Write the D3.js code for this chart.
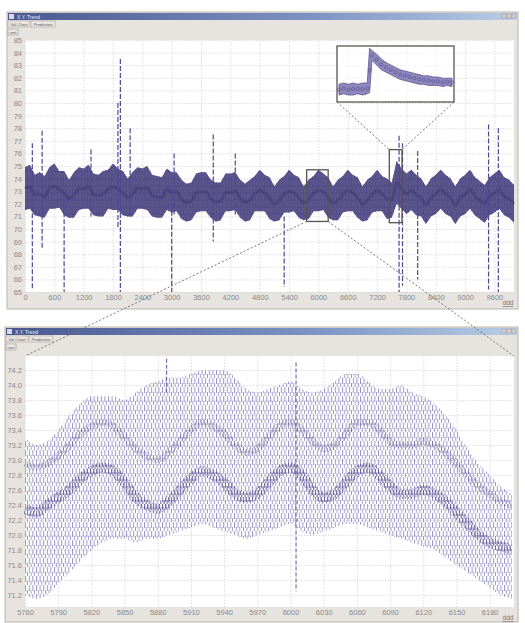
<!DOCTYPE html>
<html><head><meta charset="utf-8">
<script src="https://cdn.jsdelivr.net/npm/d3@7"></script>
<style>body{margin:0;background:#fff}svg{display:block;font-family:"Liberation Sans",Arial,sans-serif}</style>
</head><body><svg id="c" width="525" height="623"></svg>
<script>
// ---------- TOP CHART DATA (sampled every 100 units) ----------
const topStep = 100;
const topHi = [74.9,75.1,74.3,74.5,74.2,74.9,75.2,74.6,74.6,73.9,74.5,74.9,74.8,75.1,74.4,74.3,74.6,74.7,75.2,74.8,74.6,74.0,74.5,74.9,74.8,75.0,74.3,74.2,74.1,74.8,
74.5,74.5,73.9,73.6,73.7,74.4,74.5,74.5,73.9,73.7,73.7,74.4,74.4,74.5,73.9,73.6,73.9,74.2,74.7,74.3,74.1,73.4,73.9,74.2,74.7,74.3,74.1,73.4,73.9,74.2,
74.7,74.4,74.1,73.4,73.9,74.2,74.7,74.3,74.1,73.4,73.9,74.2,74.7,74.2,74.0,73.7,75.4,74.8,74.4,74.7,74.3,74.0,73.4,74.0,74.3,74.7,74.3,74.0,73.4,74.0,
74.3,74.7,74.1,73.8,73.5,74.1,74.4,74.7,74.1,73.9,73.5];
const topLo = [71.5,71.6,71.1,71.0,70.9,71.6,71.6,71.7,71.1,70.9,70.9,71.5,71.6,71.6,71.1,71.0,71.0,71.6,71.5,71.5,71.1,71.0,71.0,71.6,71.6,71.5,71.0,70.9,70.9,71.5,
71.3,71.4,70.8,70.6,70.7,71.3,71.4,71.4,70.9,70.6,70.7,71.4,71.4,71.5,70.9,70.6,70.7,71.4,71.4,71.4,70.8,70.6,70.7,71.3,71.3,71.4,70.9,70.7,70.8,71.4,
71.4,71.5,70.9,70.7,70.7,71.3,71.4,71.4,70.9,70.6,70.7,71.3,71.4,71.4,70.8,70.9,72.0,71.6,71.2,71.5,71.1,71.0,70.4,71.0,71.2,71.6,71.2,71.0,70.4,71.0,
71.2,71.6,71.1,70.8,70.5,71.1,71.3,71.6,71.1,70.9,70.5];
// outlier spikes: position, upper extreme, lower extreme
const spikeX   = [150, 350, 800, 1350, 1900, 1950, 2150, 3000, 3050, 3850, 4300, 5300, 7650, 7720, 8030, 9480, 9680];
const spikeTop = [76.8,77.8,73.0,76.3, 80.0, 83.5, 78.0, 72.0, 76.0, 77.5, 76.0, 71.0, 77.4, 76.8, 76.2, 78.3, 78.0];
const spikeBot = [65.2,68.4,65.0,71.0, 70.0, 65.0, 71.0, 65.0, 71.0, 69.0, 71.0, 65.4, 65.0, 65.5, 66.0, 65.2, 65.0];
const topYTicks = [65,66,67,68,69,70,71,72,73,74,75,76,77,78,79,80,81,82,83,84,85];
const topXTicks = [0,600,1200,1800,2400,3000,3600,4200,4800,5400,6000,6600,7200,7800,8400,9000,9600];

// ---------- INSET (spike detail 7460-7700) ----------
const insetT  = [7460,7470,7480,7490,7500,7510,7520,7525,7530,7540,7550,7560,7570,7580,7590,7600,7610,7620,7630,7640,7650,7660,7670,7680,7690,7700];
const insetHi = [73.3,73.4,73.3,73.4,73.3,73.4,73.4,76.3,76.1,75.8,75.4,75.1,74.9,74.7,74.5,74.4,74.3,74.2,74.1,74.0,74.0,73.9,73.9,73.8,73.8,73.8];
const insetLo = [72.4,72.5,72.4,72.4,72.5,72.4,72.5,72.6,75.3,74.9,74.5,74.3,74.1,73.9,73.7,73.6,73.5,73.4,73.3,73.3,73.2,73.2,73.2,73.1,73.2,73.1];

// ---------- BOTTOM CHART DATA (sampled every 10 units, 5760-6200) ----------
const botStep = 10;
const botHi = [73.3,73.2,73.25,73.4,73.6,73.75,73.85,73.85,73.85,73.8,73.9,74.0,74.05,74.1,74.1,74.15,74.2,74.2,74.2,74.1,73.95,73.9,73.95,74.0,74.05,73.95,73.9,73.95,74.05,74.15,74.15,74.05,73.95,73.95,74.0,73.9,73.85,73.75,73.6,73.4,73.15,72.95,72.8,72.65,72.55];
const botLo = [71.2,71.15,71.2,71.35,71.5,71.65,71.8,71.9,71.95,71.95,71.9,71.95,71.95,72.0,72.05,72.1,72.15,72.1,72.05,72.0,71.95,72.0,72.05,72.1,72.15,72.05,72.0,72.05,72.1,72.15,72.15,72.1,72.05,72.0,71.95,71.9,71.85,71.8,71.7,71.6,71.5,71.4,71.3,71.2,71.15];
const botBandA = [72.95,72.9,72.95,73.05,73.2,73.35,73.45,73.5,73.45,73.3,73.15,73.05,73.0,73.1,73.25,73.4,73.5,73.45,73.35,73.2,73.1,73.15,73.3,73.45,73.5,73.4,73.25,73.15,73.2,73.35,73.5,73.5,73.4,73.25,73.2,73.2,73.25,73.2,73.1,72.95,72.8,72.65,72.55,72.45,72.4];
const botBandB = [72.35,72.3,72.4,72.5,72.6,72.75,72.85,72.9,72.85,72.7,72.5,72.4,72.35,72.45,72.6,72.75,72.85,72.8,72.7,72.55,72.5,72.55,72.7,72.85,72.9,72.8,72.6,72.5,72.55,72.7,72.85,72.9,72.8,72.65,72.55,72.55,72.6,72.55,72.45,72.3,72.15,72.0,71.9,71.85,71.8];
// isolated spikes in the zoomed window
const botSpikeX = [5888, 6005];
const botSpikeTop = [74.35, 74.3];
const botSpikeBot = [73.9, 71.25];
const botYTicks = [71.2,71.4,71.6,71.8,72.0,72.2,72.4,72.6,72.8,73.0,73.2,73.4,73.6,73.8,74.0,74.2];
const botXTicks = [5760,5790,5820,5850,5880,5910,5940,5970,6000,6030,6060,6090,6120,6150,6180];

// ---------- DRAWING ----------
const svg = d3.select("#c");
const defs = svg.append("defs");
function stripe(id, color, w, h, dash, off) {
  const p = defs.append("pattern").attr("id", id).attr("patternUnits", "userSpaceOnUse")
    .attr("width", w).attr("height", h);
  p.append("rect").attr("x", 0).attr("y", 0).attr("width", 1).attr("height", dash).attr("fill", color);
  p.append("rect").attr("x", w/2).attr("y", off).attr("width", 0.9).attr("height", dash).attr("fill", color);
}
stripe("pLight", "#9a94c6", 3.6, 9, 6, 5);
stripe("pDark", "#4f4a8a", 3.0, 7, 5, 3);
const tg = defs.append("linearGradient").attr("id", "tbar");
tg.append("stop").attr("offset", "0").attr("stop-color", "#4a5790");
tg.append("stop").attr("offset", "0.6").attr("stop-color", "#7d93c4");
tg.append("stop").attr("offset", "1").attr("stop-color", "#b9cde6");

function windowChrome(x, y, w, h) {
  const g = svg.append("g");
  g.append("rect").attr("x", x).attr("y", y).attr("width", w).attr("height", h)
    .attr("fill", "#e7e3df").attr("stroke", "#b9b4b0");
  g.append("rect").attr("x", x+1).attr("y", y+1).attr("width", w-2).attr("height", 7).attr("fill", "url(#tbar)");
  g.append("rect").attr("x", x+2).attr("y", y+2).attr("width", 5).attr("height", 5).attr("fill", "#d8d8e8");
  g.append("text").attr("x", x+10).attr("y", y+6.6).attr("font-size", 5).attr("fill", "#eef").text("X.Y. Trend");
  [w-16, w-11, w-6].forEach(dx => g.append("rect").attr("x", x+dx).attr("y", y+2).attr("width", 4).attr("height", 4)
    .attr("fill", "#d6d2ce").attr("stroke", "#888").attr("stroke-width", 0.4));
  const tabs = [["Val Chart", 1, 22], ["Prediction", 24, 24]];
  tabs.forEach(t => {
    g.append("rect").attr("x", x+t[1]).attr("y", y+9).attr("width", t[2]).attr("height", 6)
      .attr("fill", "#ece8e4").attr("stroke", "#9a9591").attr("stroke-width", 0.5);
    g.append("text").attr("x", x+t[1]+t[2]/2).attr("y", y+13.7).attr("text-anchor", "middle")
      .attr("font-size", 4.3).attr("fill", "#555").text(t[0]);
  });
  g.append("rect").attr("x", x+1).attr("y", y+17).attr("width", 10).attr("height", 6)
    .attr("fill", "#ece8e4").attr("stroke", "#8e8985").attr("stroke-width", 0.5);
  g.append("text").attr("x", x+6).attr("y", y+21.8).attr("text-anchor", "middle").attr("font-size", 4.3)
    .attr("fill", "#555").text("unit");
  return g;
}

function plotFrame(g, x0, y0, x1, y1, xs, ys, xTicks, yTicks, fmt) {
  g.append("rect").attr("x", x0).attr("y", y0).attr("width", x1-x0).attr("height", y1-y0).attr("fill", "#fff");
  const ya = g.append("g").attr("transform", `translate(${x0},0)`)
    .call(d3.axisLeft(ys).tickValues(yTicks).tickSize(-(x1-x0)).tickPadding(3).tickFormat(fmt));
  const xa = g.append("g").attr("transform", `translate(0,${y1})`)
    .call(d3.axisBottom(xs).tickValues(xTicks).tickSize(-(y1-y0)).tickPadding(3).tickFormat(d3.format("d")));
  [ya, xa].forEach(a => {
    a.select(".domain").remove();
    a.selectAll("line").attr("stroke", "#d4d4d4").attr("stroke-dasharray", "1.5,1.5").attr("stroke-width", 0.8);
    a.selectAll("text").attr("fill", "#8a8a8a").attr("font-size", 7.5);
  });
}

// ---- Top window ----
const w1 = windowChrome(7, 12, 511, 297);
const tx = d3.scaleLinear().domain([0, 10000]).range([25, 514]);
const ty = d3.scaleLinear().domain([65, 85]).range([292, 40]);
plotFrame(w1, 25, 40, 514, 292, tx, ty, topXTicks, topYTicks, d3.format("d"));

const topData = topHi.map((h, i) => ({x: i*topStep, hi: h, lo: topLo[i]}));
const topArea = d3.area().x(d => tx(d.x)).y0(d => ty(d.lo)).y1(d => ty(d.hi));
w1.append("path").datum(topData).attr("d", topArea).attr("fill", "#5d578b");
w1.append("path").datum(topData).attr("d", topArea).attr("fill", "url(#pDark)").attr("opacity", 0.9);
const topMid = d3.line().x(d => tx(d.x)).y(d => ty((d.hi + d.lo)/2)).curve(d3.curveMonotoneX);
w1.append("path").datum(topData).attr("d", topMid).attr("fill", "none").attr("stroke", "#3d3770").attr("stroke-width", 3).attr("opacity", 0.5);
w1.selectAll(".spk").data(spikeX).join("line")
  .attr("x1", d => tx(d)).attr("x2", d => tx(d))
  .attr("y1", (d, i) => ty(spikeTop[i])).attr("y2", (d, i) => ty(spikeBot[i]))
  .attr("stroke", "#4e4890").attr("stroke-width", 1.2).attr("stroke-dasharray", "5,2");
w1.append("text").attr("x", 508).attr("y", 305).attr("text-anchor", "middle").attr("font-size", 6.5)
  .attr("fill", "#777").attr("text-decoration", "underline").text("ddd");

// highlight rectangles on top chart
const rectA = {t0: 5760, t1: 6200, v0: 70.6, v1: 74.7};
const rectB = {t0: 7450, t1: 7710, v0: 70.5, v1: 76.3};
[rectA, rectB].forEach(r => w1.append("rect").attr("x", tx(r.t0)).attr("y", ty(r.v1))
  .attr("width", tx(r.t1)-tx(r.t0)).attr("height", ty(r.v0)-ty(r.v1))
  .attr("fill", "none").attr("stroke", "#5a5350").attr("stroke-width", 1.3));

// inset
const ix = d3.scaleLinear().domain([7460, 7700]).range([339, 452]);
const iy = d3.scaleLinear().domain([71.9, 76.4]).range([101, 47]);
const inset = svg.append("g");
inset.append("rect").attr("x", 337).attr("y", 46).attr("width", 117).attr("height", 56)
  .attr("fill", "#fff").attr("fill-opacity", 0.6).attr("stroke", "#5a5350").attr("stroke-width", 1.3);
const insData = insetT.map((t, i) => ({t, hi: insetHi[i], lo: insetLo[i]}));
inset.append("path").datum(insData)
  .attr("d", d3.area().x(d => ix(d.t)).y0(d => iy(d.lo)).y1(d => iy(d.hi)))
  .attr("fill", "#8e88bd").attr("stroke", "#5d5794").attr("stroke-width", 0.8);
inset.selectAll(".ip").data(insData).join("circle")
  .attr("cx", d => ix(d.t)).attr("cy", d => iy((d.hi + d.lo)/2)).attr("r", 1.6)
  .attr("fill", "none").attr("stroke", "#4f4a8a").attr("stroke-width", 0.6);

// ---- Bottom window ----
const w2 = windowChrome(5, 327, 513, 295);
const bx = d3.scaleLinear().domain([5760, 6202]).range([25, 514]);
const by = d3.scaleLinear().domain([71.04, 74.4]).range([607, 355]);
plotFrame(w2, 25, 356, 514, 607, bx, by, botXTicks, botYTicks, d3.format(".1f"));
const botData = botHi.map((h, i) => ({x: 5760 + i*botStep, hi: h, lo: botLo[i], a: botBandA[i], b: botBandB[i]}));
w2.append("path").datum(botData)
  .attr("d", d3.area().x(d => bx(d.x)).y0(d => by(d.lo)).y1(d => by(d.hi)).curve(d3.curveMonotoneX))
  .attr("fill", "url(#pLight)");
w2.append("path").datum(botData)
  .attr("d", d3.line().x(d => bx(d.x)).y(d => by(d.a)).curve(d3.curveMonotoneX))
  .attr("fill", "none").attr("stroke", "url(#pDark)").attr("stroke-width", 7).attr("opacity", 0.45);
w2.append("path").datum(botData)
  .attr("d", d3.line().x(d => bx(d.x)).y(d => by(d.b)).curve(d3.curveMonotoneX))
  .attr("fill", "none").attr("stroke", "url(#pDark)").attr("stroke-width", 10).attr("opacity", 0.7);
w2.selectAll(".bspk").data(botSpikeX).join("line")
  .attr("x1", d => bx(d)).attr("x2", d => bx(d))
  .attr("y1", (d, i) => by(botSpikeTop[i])).attr("y2", (d, i) => by(botSpikeBot[i]))
  .attr("stroke", "#5a549a").attr("stroke-width", 1).attr("stroke-dasharray", "4,2");
w2.append("text").attr("x", 508).attr("y", 620).attr("text-anchor", "middle").attr("font-size", 6.5)
  .attr("fill", "#777").attr("text-decoration", "underline").text("ddd");

// connector lines (drawn on top)
const conn = svg.append("g").attr("stroke", "#6e6a68").attr("stroke-width", 0.9).attr("stroke-dasharray", "2,2");
conn.append("line").attr("x1", 337).attr("y1", 102).attr("x2", tx(rectB.t0)).attr("y2", ty(rectB.v1));
conn.append("line").attr("x1", 454).attr("y1", 102).attr("x2", tx(rectB.t1)).attr("y2", ty(rectB.v1));
conn.append("line").attr("x1", tx(rectA.t0)).attr("y1", ty(rectA.v0)).attr("x2", 25).attr("y2", 356);
conn.append("line").attr("x1", tx(rectA.t1)).attr("y1", ty(rectA.v0)).attr("x2", 514).attr("y2", 356);
</script></body></html>
